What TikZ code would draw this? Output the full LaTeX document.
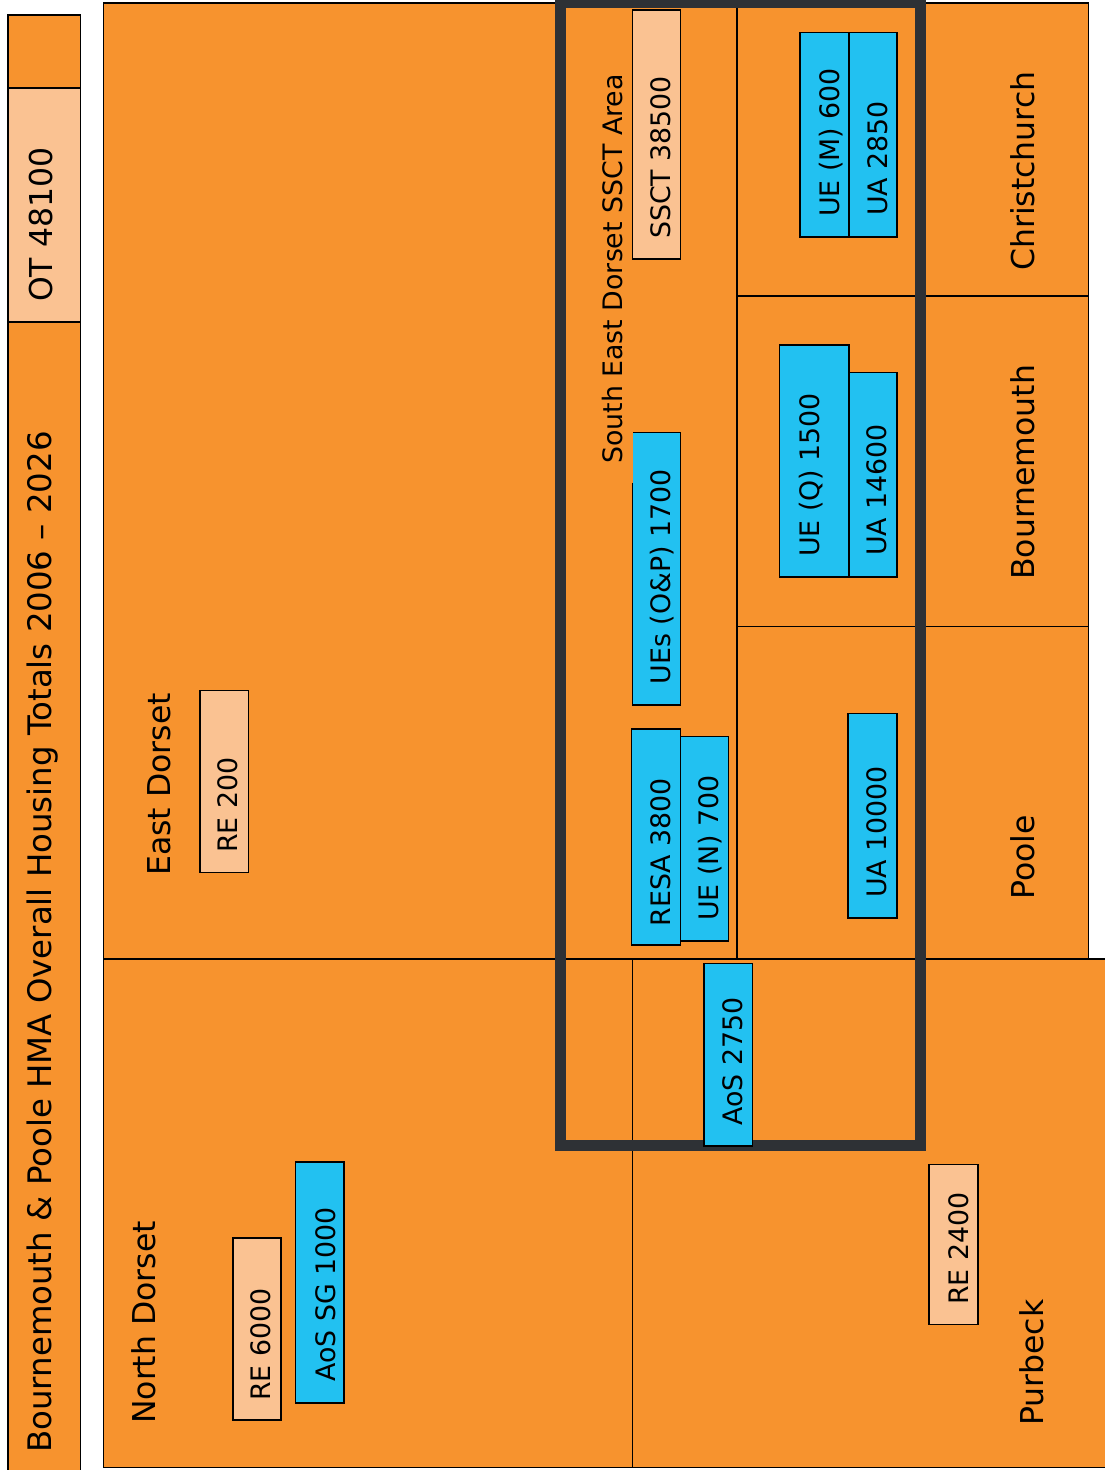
\documentclass[tikz,border=0pt]{standalone}
\usepackage{fontspec}
\setmainfont{DejaVu Sans}
\definecolor{orangeC}{HTML}{F7932E}
\definecolor{peachC}{HTML}{FAC292}
\definecolor{blueC}{HTML}{22C1F1}
\definecolor{frameC}{HTML}{2E3135}
\begin{document}
\begin{tikzpicture}[x=1pt,y=-1pt,
  region/.style={fill=orangeC, draw=black, line width=1.6pt},
  peachbox/.style={fill=peachC, draw=black, line width=1.5pt},
  bluebox/.style={fill=blueC, draw=black, line width=1.5pt},
  biglbl/.style={rotate=90, anchor=base west, inner sep=0pt, font=\fontsize{31.5}{37}\selectfont},
  titlelbl/.style={rotate=90, anchor=base west, inner sep=0pt, font=\fontsize{32.4}{38}\selectfont},
  lbl/.style={rotate=90, anchor=base west, inner sep=0pt, font=\fontsize{26.8}{32}\selectfont}]
\useasboundingbox (0,0) rectangle (1105,1470);
\fill[white] (0,0) rectangle (1105,1470);

% title strip
\filldraw[region] (7.9,15) rectangle (80.4,1480);
\filldraw[peachbox, line width=1.6pt] (7.9,88) rectangle (80.4,322);

% regions
\filldraw[region] (103.6,2.7) rectangle (736.7,959);
\filldraw[region] (736.7,2.7) rectangle (1088.3,295.7);
\filldraw[region] (736.7,295.7) rectangle (1088.3,626.5);
\filldraw[region] (736.7,626.5) rectangle (1088.3,959);
\filldraw[region] (103.6,959) rectangle (632.3,1467.5);
\filldraw[region] (632.3,959) rectangle (1110,1467.5);

% SSCT area frame
\draw[frameC, line width=11pt] (560.5,2.8) rectangle (920.5,1145.5);

% boxes
\filldraw[peachbox] (632.5,10) rectangle (680.3,259);
\fill[blueC] (632.6,432.5) rectangle (680.5,705);
\draw[black, line width=1.5pt] (632.6,482.5) -- (632.6,705) -- (680.5,705) -- (680.5,432.5) -- (632.6,432.5);
\filldraw[bluebox] (631.7,729) rectangle (680.7,945);
\filldraw[bluebox] (680.7,736.5) rectangle (728.4,941);
\filldraw[bluebox] (704.2,963.3) rectangle (752.4,1146);
\filldraw[bluebox] (779.6,345) rectangle (848.8,577);
\filldraw[bluebox] (848.8,372.7) rectangle (896.8,577);
\filldraw[bluebox] (800,32.3) rectangle (848.8,237);
\filldraw[bluebox] (848.8,32.3) rectangle (896.8,237);
\filldraw[bluebox] (848,713.6) rectangle (896.8,918);
\filldraw[peachbox] (200,690.7) rectangle (248.3,872.7);
\filldraw[peachbox] (233,1238) rectangle (281,1420);
\filldraw[bluebox] (295.7,1162) rectangle (344,1403);
\filldraw[peachbox] (929.2,1164.4) rectangle (977.8,1324.7);

% texts
\node[titlelbl] (title) at (51.7,1453) {Bournemouth \& Poole HMA Overall Housing Totals 2006 – 2026};
\node[biglbl] (ot) at (52,302) {OT 48100};
\node[biglbl] (eastdorset) at (170,876) {East Dorset};
\node[biglbl] (northdorset) at (155,1424) {North Dorset};
\node[lbl] (sedorset) at (622,464) {South East Dorset SSCT Area};
\node[lbl] (ssct) at (670,239) {SSCT 38500};
\node[lbl] (uem) at (839,217) {UE (M) 600};
\node[lbl] (ua2850) at (887,216) {UA 2850};
\node[biglbl] (christchurch) at (1034,271) {Christchurch};
\node[lbl] (ueq) at (819.3,557) {UE (Q) 1500};
\node[lbl] (ua14600) at (886,556) {UA 14600};
\node[biglbl] (bournemouth) at (1034,580) {Bournemouth};
\node[lbl] (ues) at (670,684.5) {UEs (O\&P) 1700};
\node[lbl] (resa) at (670,926.6) {RESA 3800};
\node[lbl] (uen) at (718,921) {UE (N) 700};
\node[lbl] (ua10000) at (886,898) {UA 10000};
\node[biglbl] (poole) at (1034,900) {Poole};
\node[lbl] (re200) at (237.3,853) {RE 200};
\node[lbl] (aos2750) at (742.5,1125.7) {AoS 2750};
\node[lbl] (re2400) at (968,1305) {RE 2400};
\node[biglbl] (purbeck) at (1043,1426) {Purbeck};
\node[lbl] (re6000) at (270.7,1401) {RE 6000};
\node[lbl] (aossg) at (335,1381.7) {AoS SG 1000};
\end{tikzpicture}
\end{document}
